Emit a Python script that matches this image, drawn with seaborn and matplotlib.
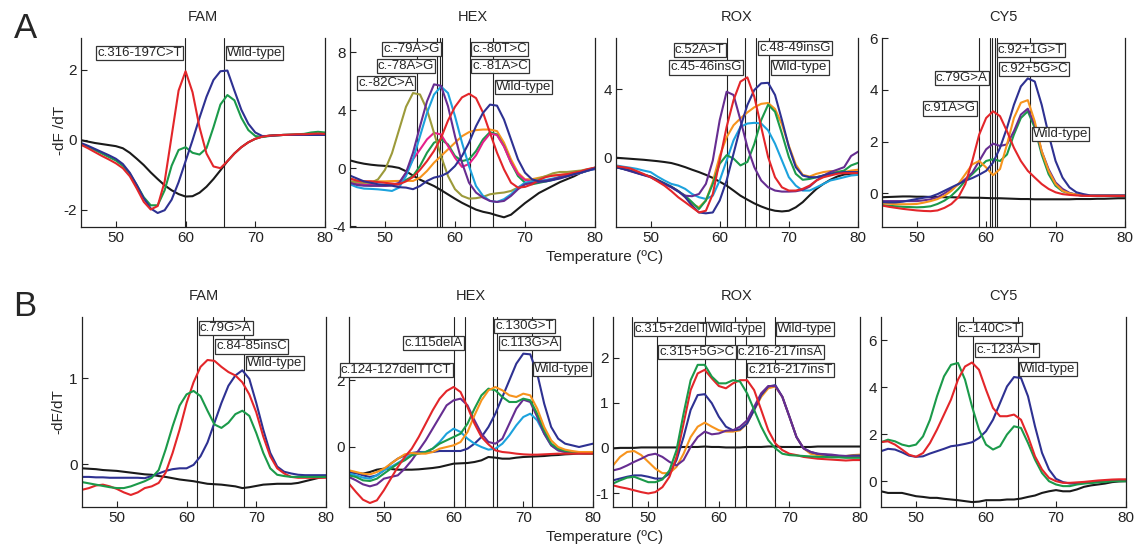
import numpy as np
import pandas as pd
import matplotlib
matplotlib.use("Agg")
import matplotlib.pyplot as plt
import seaborn as sns

# melting curve read-out, one value per degree from 45 to 80 C
TEMP = np.arange(45, 81)

RED = "#e3262a"
GREEN = "#1b9a4a"
NAVY = "#2e3192"
BLACK = "#1a1a1a"
ORANGE = "#f7941d"
PURPLE = "#662d91"
CYAN = "#1ca2dd"
OLIVE = "#9c9a3a"
MAGENTA = "#e6208a"

# ---------------- row A ----------------
A_FAM_BLACK = [-0.02, -0.06, -0.10, -0.13, -0.16, -0.19, -0.25, -0.38, -0.55, -0.73, -0.94, -1.13, -1.31, -1.45, -1.56, -1.63, -1.62, -1.52,
               -1.35, -1.13, -0.88, -0.62, -0.40, -0.22, -0.08, 0.02, 0.08, 0.11, 0.12, 0.13, 0.13, 0.13, 0.13, 0.13, 0.13, 0.13]
A_FAM_RED = [-0.15, -0.25, -0.36, -0.47, -0.57, -0.68, -0.82, -1.05, -1.40, -1.78, -2.00, -1.90, -1.20, 0.10, 1.40, 1.95, 1.35, 0.35,
             -0.40, -0.77, -0.82, -0.62, -0.40, -0.22, -0.08, 0.02, 0.08, 0.11, 0.12, 0.13, 0.14, 0.15, 0.15, 0.16, 0.17, 0.16]
A_FAM_BLUE = [-0.10, -0.18, -0.27, -0.36, -0.45, -0.55, -0.70, -0.95, -1.30, -1.68, -1.97, -2.10, -2.02, -1.72, -1.22, -0.62, -0.02, 0.62,
              1.22, 1.70, 1.95, 1.97, 1.40, 0.85, 0.45, 0.20, 0.10, 0.10, 0.12, 0.13, 0.13, 0.13, 0.13, 0.13, 0.13, 0.13]
A_FAM_GREEN = [-0.12, -0.20, -0.30, -0.40, -0.50, -0.60, -0.75, -0.98, -1.30, -1.65, -1.88, -1.88, -1.45, -0.75, -0.30, -0.22, -0.38, -0.43,
               -0.25, 0.35, 1.00, 1.27, 1.12, 0.62, 0.27, 0.10, 0.07, 0.10, 0.12, 0.13, 0.14, 0.15, 0.16, 0.20, 0.22, 0.20]

A_HEX_BLACK = [0.55, 0.42, 0.32, 0.25, 0.20, 0.17, 0.12, 0.03, -0.20, -0.50, -0.78, -1.00, -1.22, -1.50, -1.80, -2.10, -2.38, -2.62,
               -2.85, -3.00, -3.10, -3.25, -3.38, -3.20, -2.80, -2.40, -2.05, -1.70, -1.45, -1.20, -0.95, -0.75, -0.55, -0.30, -0.10, 0.05]
A_HEX_OLIVE = [-0.90, -0.95, -1.00, -1.00, -0.76, -0.10, 1.05, 2.65, 4.25, 5.20, 5.10, 4.05, 2.45, 0.85, -0.53, -1.44, -1.90, -2.09,
               -2.06, -1.97, -1.79, -1.72, -1.67, -1.56, -1.33, -1.10, -0.87, -0.70, -0.53, -0.34, -0.25, -0.25, -0.20, -0.15, -0.05, 0.00]
A_HEX_PURPLE = [-1.00, -1.15, -1.20, -1.20, -1.20, -1.20, -1.15, -1.00, -0.30, 1.08, 2.90, 4.63, 5.80, 5.70, 4.29, 2.22, 0.39, -0.99,
                -1.67, -2.02, -2.25, -2.32, -2.25, -1.90, -1.44, -1.10, -1.00, -0.95, -0.85, -0.75, -0.60, -0.50, -0.38, -0.25, -0.12, 0.00]
A_HEX_CYAN = [-1.10, -1.30, -1.40, -1.42, -1.45, -1.50, -1.56, -1.33, -0.53, 0.62, 2.22, 3.83, 5.09, 5.65, 5.20, 3.60, 1.77, 0.16,
              -1.22, -1.90, -2.25, -2.32, -2.13, -1.79, -1.33, -0.99, -0.90, -0.85, -0.80, -0.70, -0.60, -0.50, -0.40, -0.30, -0.15, -0.05]
A_HEX_MAGENTA = [-0.90, -1.00, -1.10, -1.15, -1.20, -1.20, -1.15, -1.10, -0.30, 0.62, 1.30, 2.00, 2.45, 2.34, 1.54, 0.73, 0.10, 0.30,
                 0.90, 1.80, 2.40, 2.30, 1.50, 0.40, -0.40, -0.80, -0.90, -0.88, -0.85, -0.78, -0.65, -0.55, -0.42, -0.30, -0.15, -0.05]
A_HEX_RED = [-0.70, -0.85, -0.90, -0.90, -0.95, -1.00, -1.05, -1.10, -0.90, -0.60, -0.10, 0.50, 1.20, 2.10, 3.30, 4.25, 4.90, 5.15,
             4.85, 3.85, 2.45, 1.08, -0.07, -0.99, -1.33, -1.28, -1.10, -0.80, -0.60, -0.50, -0.45, -0.40, -0.30, -0.20, -0.05, 0.05]
A_HEX_GREEN = [-1.00, -1.10, -1.15, -1.20, -1.20, -1.20, -1.15, -1.10, -0.80, -0.53, 0.16, 1.08, 1.77, 2.00, 1.65, 0.85, 0.50, 0.62,
               1.19, 2.00, 2.50, 2.34, 1.54, 0.39, -0.53, -0.99, -1.10, -1.00, -0.90, -0.80, -0.60, -0.50, -0.40, -0.30, -0.15, 0.00]
A_HEX_ORANGE = [-0.70, -0.85, -0.90, -0.90, -0.90, -0.90, -0.88, -0.87, -0.86, -0.87, -0.64, -0.18, 0.39, 0.85, 1.31, 1.77, 2.22, 2.50,
                2.64, 2.68, 2.68, 2.57, 1.77, 0.62, -0.30, -0.76, -0.75, -0.65, -0.55, -0.50, -0.45, -0.40, -0.30, -0.20, -0.10, 0.00]
A_HEX_NAVY = [-0.50, -0.70, -0.90, -1.00, -1.10, -1.15, -1.20, -1.30, -1.33, -1.44, -1.22, -0.87, -0.64, -0.53, -0.30, 0.16, 0.85, 1.77,
              2.91, 3.83, 4.40, 4.33, 3.37, 2.00, 0.62, -0.30, -0.76, -0.90, -0.90, -0.80, -0.70, -0.55, -0.40, -0.30, -0.15, 0.00]

A_ROX_BLACK = [0.00, -0.03, -0.06, -0.09, -0.12, -0.16, -0.20, -0.25, -0.31, -0.42, -0.55, -0.70, -0.84, -1.00, -1.18, -1.40, -1.63, -1.92,
               -2.22, -2.45, -2.67, -2.85, -3.00, -3.10, -3.14, -3.10, -2.90, -2.60, -2.20, -1.82, -1.53, -1.29, -1.10, -0.98, -0.94, -0.90]
A_ROX_PURPLE = [-0.55, -0.65, -0.78, -0.90, -1.02, -1.14, -1.34, -1.54, -1.73, -1.98, -2.22, -2.25, -2.12, -1.53, -0.16, 2.20, 3.86, 3.67,
                2.20, 0.63, -0.55, -1.33, -1.73, -1.92, -1.98, -1.98, -1.96, -1.88, -1.69, -1.33, -1.04, -0.84, -0.70, -0.55, 0.10, 0.35]
A_ROX_RED = [-0.50, -0.55, -0.62, -0.78, -0.95, -1.14, -1.38, -1.63, -1.95, -2.31, -2.60, -2.90, -3.20, -3.10, -2.12, -0.16, 1.80, 3.37,
             4.45, 4.70, 3.57, 1.80, 0.04, -1.14, -1.73, -1.92, -1.92, -1.82, -1.63, -1.33, -1.14, -1.04, -0.94, -0.90, -0.90, -0.90]
A_ROX_GREEN = [-0.55, -0.65, -0.75, -0.88, -1.00, -1.10, -1.30, -1.50, -1.70, -1.95, -2.22, -2.60, -3.00, -2.50, -1.53, -0.35, 0.15, -0.05,
               -0.45, -0.25, 0.80, 2.20, 3.10, 2.69, 1.41, 0.04, -0.94, -1.29, -1.24, -1.14, -1.04, -0.94, -0.84, -0.75, -0.45, -0.30]
A_ROX_ORANGE = [-0.50, -0.60, -0.72, -0.85, -0.98, -1.10, -1.30, -1.50, -1.70, -1.95, -2.30, -2.70, -2.90, -2.50, -1.40, 0.10, 1.20, 1.90,
                2.30, 2.65, 2.95, 3.15, 3.20, 2.85, 1.95, 0.70, -0.40, -1.00, -1.10, -0.94, -0.84, -0.78, -0.80, -0.84, -0.75, -0.70]
A_ROX_CYAN = [-0.45, -0.52, -0.58, -0.65, -0.75, -0.84, -1.10, -1.33, -1.53, -1.63, -1.82, -2.12, -2.31, -2.41, -2.22, -1.33, -0.16, 1.02,
              1.80, 2.00, 2.04, 2.00, 1.60, 0.82, -0.16, -1.14, -1.63, -1.92, -1.92, -1.73, -1.53, -1.33, -1.24, -1.14, -1.04, -1.00]
A_ROX_NAVY = [-0.55, -0.65, -0.75, -0.88, -1.00, -1.10, -1.30, -1.50, -1.70, -1.95, -2.30, -2.80, -3.20, -3.25, -3.20, -2.50, -1.33, 0.24,
              1.80, 3.08, 3.96, 4.35, 4.38, 3.67, 2.20, 0.63, -0.55, -1.04, -1.14, -1.14, -1.04, -0.94, -0.90, -0.84, -0.84, -0.84]

A_CY5_BLACK = [-0.15, -0.14, -0.13, -0.12, -0.12, -0.13, -0.13, -0.14, -0.14, -0.15, -0.15, -0.16, -0.16, -0.17, -0.17, -0.18, -0.19, -0.19,
               -0.20, -0.21, -0.22, -0.22, -0.23, -0.23, -0.23, -0.23, -0.23, -0.23, -0.22, -0.22, -0.22, -0.21, -0.21, -0.20, -0.19, -0.19]
A_CY5_RED = [-0.47, -0.52, -0.56, -0.60, -0.63, -0.66, -0.68, -0.69, -0.66, -0.56, -0.41, -0.15, 0.36, 1.25, 2.27, 2.91, 3.17, 2.98,
             2.40, 1.76, 1.25, 0.87, 0.61, 0.36, 0.17, 0.04, -0.03, -0.06, -0.08, -0.09, -0.10, -0.10, -0.10, -0.10, -0.10, -0.10]
A_CY5_ORANGE = [-0.38, -0.40, -0.42, -0.42, -0.42, -0.41, -0.36, -0.30, -0.22, -0.09, 0.10, 0.36, 0.74, 1.12, 1.25, 1.00, 0.70, 0.94,
                1.89, 2.91, 3.50, 3.60, 2.78, 1.63, 0.87, 0.36, 0.10, 0.00, -0.05, -0.08, -0.08, -0.08, -0.08, -0.08, -0.08, -0.08]
A_CY5_PURPLE = [-0.30, -0.30, -0.30, -0.30, -0.30, -0.30, -0.27, -0.23, -0.15, 0.00, 0.17, 0.35, 0.55, 0.80, 1.25, 1.70, 1.92, 1.83,
                1.89, 2.40, 3.04, 3.27, 2.66, 1.63, 0.93, 0.42, 0.17, 0.02, -0.05, -0.10, -0.10, -0.10, -0.10, -0.10, -0.10, -0.10]
A_CY5_GREEN = [-0.45, -0.48, -0.50, -0.52, -0.53, -0.54, -0.53, -0.50, -0.41, -0.28, -0.09, 0.17, 0.49, 0.74, 1.00, 1.25, 1.32, 1.25,
               1.50, 2.27, 2.91, 3.17, 2.53, 1.50, 0.74, 0.29, 0.08, 0.00, -0.05, -0.10, -0.10, -0.10, -0.10, -0.10, -0.10, -0.10]
A_CY5_NAVY = [-0.34, -0.35, -0.35, -0.32, -0.27, -0.22, -0.17, -0.13, -0.03, 0.10, 0.23, 0.36, 0.49, 0.59, 0.72, 0.87, 1.19, 1.76,
              2.53, 3.42, 4.13, 4.44, 4.32, 3.42, 2.27, 1.25, 0.61, 0.23, 0.04, -0.03, -0.08, -0.08, -0.08, -0.08, -0.08, -0.08]

# ---------------- row B ----------------
B_FAM_BLACK = [-0.05, -0.055, -0.06, -0.07, -0.075, -0.08, -0.09, -0.10, -0.11, -0.12, -0.125, -0.14, -0.15, -0.165, -0.18, -0.19, -0.20, -0.215,
               -0.23, -0.235, -0.24, -0.25, -0.26, -0.28, -0.27, -0.255, -0.24, -0.235, -0.23, -0.23, -0.23, -0.22, -0.20, -0.18, -0.16, -0.15]
B_FAM_NAVY = [-0.15, -0.15, -0.155, -0.155, -0.16, -0.16, -0.16, -0.16, -0.16, -0.165, -0.14, -0.11, -0.08, -0.06, -0.05, -0.05, -0.01, 0.09,
              0.25, 0.48, 0.71, 0.91, 1.03, 1.09, 0.99, 0.71, 0.40, 0.13, -0.03, -0.09, -0.11, -0.125, -0.13, -0.13, -0.13, -0.13]
B_FAM_RED = [-0.30, -0.28, -0.25, -0.24, -0.26, -0.29, -0.33, -0.36, -0.33, -0.28, -0.26, -0.22, -0.10, 0.13, 0.40, 0.71, 0.95, 1.13,
             1.21, 1.20, 1.13, 1.07, 1.03, 0.95, 0.81, 0.60, 0.32, 0.09, -0.05, -0.11, -0.15, -0.16, -0.16, -0.16, -0.16, -0.16]
B_FAM_GREEN = [-0.21, -0.225, -0.24, -0.255, -0.27, -0.28, -0.28, -0.26, -0.23, -0.20, -0.16, -0.07, 0.17, 0.44, 0.68, 0.81, 0.85, 0.79,
               0.62, 0.46, 0.42, 0.48, 0.58, 0.62, 0.56, 0.36, 0.13, -0.05, -0.125, -0.14, -0.15, -0.15, -0.15, -0.15, -0.15, -0.15]

B_HEX_BLACK = [-0.75, -0.78, -0.80, -0.75, -0.68, -0.65, -0.66, -0.68, -0.68, -0.68, -0.67, -0.65, -0.63, -0.60, -0.55, -0.50, -0.49, -0.48,
               -0.45, -0.40, -0.30, -0.32, -0.35, -0.35, -0.32, -0.30, -0.29, -0.28, -0.27, -0.25, -0.24, -0.22, -0.21, -0.20, -0.19, -0.18]
B_HEX_RED = [-1.10, -1.35, -1.58, -1.68, -1.60, -1.30, -0.95, -0.60, -0.30, -0.05, 0.30, 0.70, 1.10, 1.45, 1.68, 1.80, 1.65, 1.20,
             0.70, 0.30, 0.08, -0.10, -0.15, -0.17, -0.20, -0.22, -0.23, -0.23, -0.22, -0.21, -0.20, -0.20, -0.20, -0.20, -0.20, -0.20]
B_HEX_PURPLE = [-0.90, -1.00, -1.12, -1.18, -1.12, -0.95, -0.90, -0.85, -0.65, -0.40, -0.10, 0.20, 0.55, 0.90, 1.25, 1.40, 1.45, 1.25,
                0.80, 0.40, 0.15, 0.10, 0.25, 0.70, 1.15, 1.42, 1.35, 0.90, 0.40, 0.05, -0.10, -0.15, -0.17, -0.18, -0.20, -0.20]
B_HEX_CYAN = [-0.80, -0.85, -0.92, -0.95, -0.85, -0.70, -0.60, -0.48, -0.35, -0.22, -0.18, -0.15, -0.05, 0.15, 0.40, 0.55, 0.45, 0.25,
              0.10, 0.00, -0.08, -0.05, 0.10, 0.35, 0.65, 0.90, 1.00, 0.80, 0.40, 0.05, -0.10, -0.15, -0.18, -0.20, -0.20, -0.20]
B_HEX_GREEN = [-0.85, -0.90, -1.00, -1.02, -0.95, -0.80, -0.65, -0.50, -0.40, -0.25, -0.20, -0.15, -0.05, 0.10, 0.20, 0.30, 0.40, 0.70,
               1.15, 1.55, 1.75, 1.70, 1.50, 1.35, 1.35, 1.45, 1.40, 1.00, 0.50, 0.10, -0.05, -0.12, -0.15, -0.18, -0.20, -0.20]
B_HEX_ORANGE = [-0.70, -0.75, -0.80, -0.82, -0.75, -0.65, -0.50, -0.35, -0.22, -0.18, -0.20, -0.20, -0.15, -0.05, 0.00, 0.05, 0.15, 0.45,
                0.95, 1.40, 1.70, 1.80, 1.70, 1.55, 1.50, 1.60, 1.55, 1.15, 0.60, 0.20, 0.00, -0.08, -0.12, -0.15, -0.15, -0.15]
B_HEX_NAVY = [-0.75, -0.78, -0.85, -0.90, -0.85, -0.70, -0.50, -0.35, -0.25, -0.18, -0.15, -0.15, -0.15, -0.12, -0.12, -0.12, -0.12, -0.05,
              0.10, 0.30, 0.60, 1.00, 1.50, 2.00, 2.50, 2.80, 2.78, 2.20, 1.30, 0.60, 0.25, 0.10, 0.05, 0.00, 0.05, 0.10]

B_ROX_BLACK = [-0.01, 0.00, 0.00, 0.00, 0.01, 0.01, 0.01, 0.01, 0.01, 0.01, 0.02, 0.02, 0.02, 0.03, 0.02, 0.02, 0.01, 0.01,
               0.01, 0.02, 0.02, 0.02, 0.03, 0.03, 0.02, 0.02, 0.02, 0.02, 0.02, 0.03, 0.03, 0.03, 0.03, 0.03, 0.03, 0.03]
B_ROX_ORANGE = [-0.39, -0.20, -0.09, -0.07, -0.16, -0.31, -0.46, -0.56, -0.56, -0.42, -0.13, 0.24, 0.47, 0.56, 0.47, 0.39, 0.36, 0.36,
                0.39, 0.54, 0.84, 1.13, 1.32, 1.36, 1.13, 0.69, 0.24, -0.01, -0.13, -0.16, -0.19, -0.20, -0.20, -0.18, -0.16, -0.15]
B_ROX_PURPLE = [-0.50, -0.46, -0.39, -0.31, -0.24, -0.16, -0.13, -0.20, -0.31, -0.39, -0.27, 0.02, 0.24, 0.36, 0.30, 0.32, 0.38, 0.39,
                0.47, 0.61, 0.91, 1.21, 1.37, 1.37, 1.13, 0.69, 0.24, -0.01, -0.09, -0.13, -0.14, -0.15, -0.17, -0.18, -0.19, -0.20]
B_ROX_NAVY = [-0.72, -0.68, -0.64, -0.61, -0.61, -0.64, -0.68, -0.68, -0.57, -0.27, 0.24, 0.84, 1.17, 1.19, 0.99, 0.69, 0.47, 0.39,
              0.41, 0.54, 0.84, 1.17, 1.36, 1.39, 1.13, 0.69, 0.24, -0.01, -0.09, -0.13, -0.15, -0.17, -0.18, -0.18, -0.17, -0.17]
B_ROX_GREEN = [-0.79, -0.72, -0.66, -0.64, -0.70, -0.76, -0.76, -0.70, -0.50, -0.05, 0.76, 1.50, 1.84, 1.84, 1.58, 1.43, 1.43, 1.50,
               1.47, 1.21, 0.84, 0.47, 0.17, -0.01, -0.13, -0.16, -0.17, -0.18, -0.19, -0.20, -0.20, -0.21, -0.21, -0.22, -0.22, -0.22]
B_ROX_RED = [-0.83, -0.87, -0.90, -0.94, -0.98, -1.01, -0.98, -0.87, -0.64, -0.20, 0.54, 1.28, 1.65, 1.73, 1.54, 1.37, 1.32, 1.43,
             1.50, 1.50, 1.28, 0.84, 0.39, 0.10, -0.05, -0.13, -0.16, -0.20, -0.22, -0.24, -0.25, -0.26, -0.27, -0.28, -0.27, -0.27]

B_CY5_BLACK = [-0.43, -0.50, -0.50, -0.50, -0.57, -0.64, -0.67, -0.71, -0.71, -0.75, -0.78, -0.81, -0.85, -0.89, -0.87, -0.81, -0.81, -0.81,
               -0.78, -0.78, -0.74, -0.67, -0.61, -0.50, -0.43, -0.38, -0.43, -0.43, -0.35, -0.24, -0.18, -0.14, -0.10, -0.04, -0.01, 0.00]
B_CY5_GREEN = [1.66, 1.77, 1.70, 1.56, 1.49, 1.56, 1.91, 2.62, 3.62, 4.47, 4.96, 5.04, 4.33, 3.19, 2.20, 1.56, 1.35, 1.49,
               1.99, 2.34, 2.27, 1.63, 0.92, 0.35, 0.00, -0.14, -0.21, -0.21, -0.14, -0.10, -0.08, -0.05, -0.03, 0.00, 0.00, 0.00]
B_CY5_RED = [1.67, 1.70, 1.56, 1.35, 1.13, 1.04, 1.20, 1.63, 2.20, 2.84, 3.48, 4.33, 4.89, 5.06, 4.75, 3.90, 3.12, 2.77,
             2.77, 2.84, 2.62, 1.91, 1.06, 0.50, 0.14, 0.00, -0.07, -0.07, -0.05, -0.03, 0.00, 0.03, 0.05, 0.07, 0.08, 0.08]
B_CY5_NAVY = [1.28, 1.38, 1.35, 1.23, 1.09, 1.04, 1.06, 1.18, 1.28, 1.38, 1.49, 1.53, 1.59, 1.66, 1.84, 2.13, 2.62, 3.33,
              4.04, 4.44, 4.40, 3.62, 2.34, 1.21, 0.50, 0.10, -0.04, -0.10, -0.10, -0.08, -0.05, -0.03, 0.00, 0.02, 0.03, 0.03]

# (label, line position, box height as axes fraction, box side of the line)
A_FAM_LINES = [59.85, 65.55]
A_FAM_LABELS = [("c.316-197C>T", 59.85, 0.92, "L"), ("Wild-type", 65.55, 0.92, "R")]
A_HEX_LINES = [54.5, 57.45, 57.9, 58.2, 62.1, 65.4]
A_HEX_LABELS = [("c.-79A>G", 58.2, 0.943, "L"), ("c.-78A>G", 57.45, 0.85, "L"), ("c.-82C>A", 54.5, 0.764, "L"),
                ("c.-80T>C", 62.1, 0.943, "R"), ("c.-81A>C", 62.1, 0.85, "R"), ("Wild-type", 65.4, 0.739, "R")]
A_ROX_LINES = [61.1, 63.6, 65.3, 67.2]
A_ROX_LABELS = [("c.52A>T", 61.1, 0.938, "L"), ("c.45-46insG", 63.6, 0.844, "L"),
                ("c.48-49insG", 65.3, 0.947, "R"), ("Wild-type", 67.2, 0.844, "R")]
A_CY5_LINES = [58.9, 60.6, 60.8, 61.3, 61.6, 66.3]
A_CY5_LABELS = [("c.92+1G>T", 61.3, 0.936, "R"), ("c.92+5G>C", 61.6, 0.838, "R"), ("c.79G>A", 60.6, 0.79, "L"),
                ("c.91A>G", 58.9, 0.627, "L"), ("Wild-type", 66.3, 0.494, "R")]
B_FAM_LINES = [61.5, 63.85, 68.3]
B_FAM_LABELS = [("c.79G>A", 61.5, 0.94, "R"), ("c.84-85insC", 63.85, 0.845, "R"), ("Wild-type", 68.3, 0.758, "R")]
B_HEX_LINES = [60.1, 61.7, 65.6, 66.3, 71.2]
B_HEX_LABELS = [("c.130G>T", 65.6, 0.951, "R"), ("c.113G>A", 66.3, 0.862, "R"), ("c.115delA", 61.7, 0.862, "L"),
                ("c.124-127delTTCT", 60.1, 0.72, "L"), ("Wild-type", 71.2, 0.725, "R")]
B_ROX_LINES = [47.7, 51.2, 58.0, 62.3, 63.8, 67.9]
B_ROX_LABELS = [("c.315+2delT", 47.7, 0.938, "R"), ("Wild-type", 58.0, 0.938, "R"), ("Wild-type", 67.9, 0.938, "R"),
                ("c.315+5G>C", 51.2, 0.817, "R"), ("c.216-217insA", 62.3, 0.817, "R"), ("c.216-217insT", 63.8, 0.719, "R")]
B_CY5_LINES = [55.7, 58.2, 64.5]
B_CY5_LABELS = [("c.-140C>T", 55.7, 0.937, "R"), ("c.-123A>T", 58.2, 0.827, "R"), ("Wild-type", 64.5, 0.726, "R")]

W, H = 1138, 548

panels = [
    # title, pixel box (left, right, top, bottom), traces, lines, labels, ylim, yticks
    ("FAM", (81, 325, 38, 227), [(A_FAM_BLACK, BLACK), (A_FAM_GREEN, GREEN), (A_FAM_BLUE, NAVY), (A_FAM_RED, RED)],
     A_FAM_LINES, A_FAM_LABELS, (-2.5, 2.9), [-2, 0, 2]),
    ("HEX", (350, 595, 38, 227), [(A_HEX_BLACK, BLACK), (A_HEX_ORANGE, ORANGE), (A_HEX_GREEN, GREEN), (A_HEX_MAGENTA, MAGENTA),
                                  (A_HEX_OLIVE, OLIVE), (A_HEX_CYAN, CYAN), (A_HEX_PURPLE, PURPLE), (A_HEX_RED, RED), (A_HEX_NAVY, NAVY)],
     A_HEX_LINES, A_HEX_LABELS, (-4.05, 9.0), [-4, 0, 4, 8]),
    ("ROX", (616, 858, 38, 227), [(A_ROX_BLACK, BLACK), (A_ROX_CYAN, CYAN), (A_ROX_ORANGE, ORANGE), (A_ROX_GREEN, GREEN),
                                  (A_ROX_PURPLE, PURPLE), (A_ROX_NAVY, NAVY), (A_ROX_RED, RED)],
     A_ROX_LINES, A_ROX_LABELS, (-4.05, 7.0), [0, 4]),
    ("CY5", (882, 1125, 38, 227), [(A_CY5_BLACK, BLACK), (A_CY5_GREEN, GREEN), (A_CY5_PURPLE, PURPLE), (A_CY5_ORANGE, ORANGE),
                                   (A_CY5_NAVY, NAVY), (A_CY5_RED, RED)],
     A_CY5_LINES, A_CY5_LABELS, (-1.3, 6.0), [0, 2, 4, 6]),
    ("FAM", (82, 326, 317, 507), [(B_FAM_BLACK, BLACK), (B_FAM_NAVY, NAVY), (B_FAM_RED, RED), (B_FAM_GREEN, GREEN)],
     B_FAM_LINES, B_FAM_LABELS, (-0.5, 1.71), [0, 1]),
    ("HEX", (349, 593, 317, 507), [(B_HEX_BLACK, BLACK), (B_HEX_NAVY, NAVY), (B_HEX_CYAN, CYAN), (B_HEX_PURPLE, PURPLE),
                                   (B_HEX_GREEN, GREEN), (B_HEX_ORANGE, ORANGE), (B_HEX_RED, RED)],
     B_HEX_LINES, B_HEX_LABELS, (-1.8, 3.9), [0, 2]),
    ("ROX", (613, 860, 317, 507), [(B_ROX_BLACK, BLACK), (B_ROX_ORANGE, ORANGE), (B_ROX_NAVY, NAVY), (B_ROX_PURPLE, PURPLE),
                                   (B_ROX_RED, RED), (B_ROX_GREEN, GREEN)],
     B_ROX_LINES, B_ROX_LABELS, (-1.31, 2.9), [-1, 0, 1, 2]),
    ("CY5", (881, 1126, 317, 507), [(B_CY5_BLACK, BLACK), (B_CY5_NAVY, NAVY), (B_CY5_GREEN, GREEN), (B_CY5_RED, RED)],
     B_CY5_LINES, B_CY5_LABELS, (-1.1, 7.0), [0, 2, 4, 6]),
]

sns.set_style("ticks")
plt.rcParams["font.family"] = ["Liberation Sans", "DejaVu Sans"]
plt.rcParams["axes.unicode_minus"] = False

fig = plt.figure(figsize=(W / 100, H / 100), dpi=100)
fig.patch.set_facecolor("white")

for title, (l, r, t, b), traces, lines, labels, ylim, yticks in panels:
    ax = fig.add_axes([l / W, 1 - b / H, (r - l) / W, (b - t) / H])

    df = pd.DataFrame({
        "T": np.tile(TEMP, len(traces)),
        "dFdT": np.concatenate([vals for vals, _ in traces]),
        "trace": np.repeat([c for _, c in traces], len(TEMP)),
    })
    sns.lineplot(data=df, x="T", y="dFdT", hue="trace", palette={c: c for _, c in traces},
                 hue_order=[c for _, c in traces], estimator=None, sort=False,
                 legend=False, linewidth=1.5, ax=ax, zorder=2)

    for x in lines:
        ax.axvline(x, color="#222222", lw=0.8, zorder=1)

    for text, x, yf, side in labels:
        off = 2.0 if side == "R" else -2.0
        ax.annotate(text, xy=(x, yf), xycoords=("data", "axes fraction"),
                    xytext=(off, 0), textcoords="offset points",
                    ha="left" if side == "R" else "right", va="center", fontsize=9.5,
                    bbox=dict(boxstyle="square,pad=0.08", fc="white", ec="#333333", lw=0.9),
                    zorder=5, annotation_clip=False)

    ax.set_xlim(45, 80)
    ax.set_ylim(*ylim)
    ax.set_xticks([50, 60, 70, 80])
    ax.set_yticks(yticks)
    ax.set_xlabel("")
    ax.set_ylabel("")
    ax.tick_params(direction="in", length=4, width=0.8, labelsize=11, pad=3, colors="#222222")
    for side in ["left", "bottom", "right"]:
        ax.spines[side].set_visible(True)
        ax.spines[side].set_color("#222222")
        ax.spines[side].set_linewidth(0.9)
    ax.spines["top"].set_visible(False)
    ax.text(0.5, 1.11, title, transform=ax.transAxes, ha="center", va="center", fontsize=10.5)

fig.text(25 / W, 1 - 28 / H, "A", fontsize=25, ha="center", va="center")
fig.text(25 / W, 1 - 306 / H, "B", fontsize=25, ha="center", va="center")
fig.text(605 / W, 1 - 257 / H, "Temperature (ºC)", fontsize=11, ha="center", va="center")
fig.text(605 / W, 1 - 537 / H, "Temperature (ºC)", fontsize=11, ha="center", va="center")
fig.text(60 / W, 1 - 130 / H, "-dF /dT", fontsize=11, rotation=90, ha="center", va="center")
fig.text(58 / W, 1 - 412 / H, "-dF/dT", fontsize=11, rotation=90, ha="center", va="center")

fig.savefig("out.png", dpi=100)
plt.close(fig)
